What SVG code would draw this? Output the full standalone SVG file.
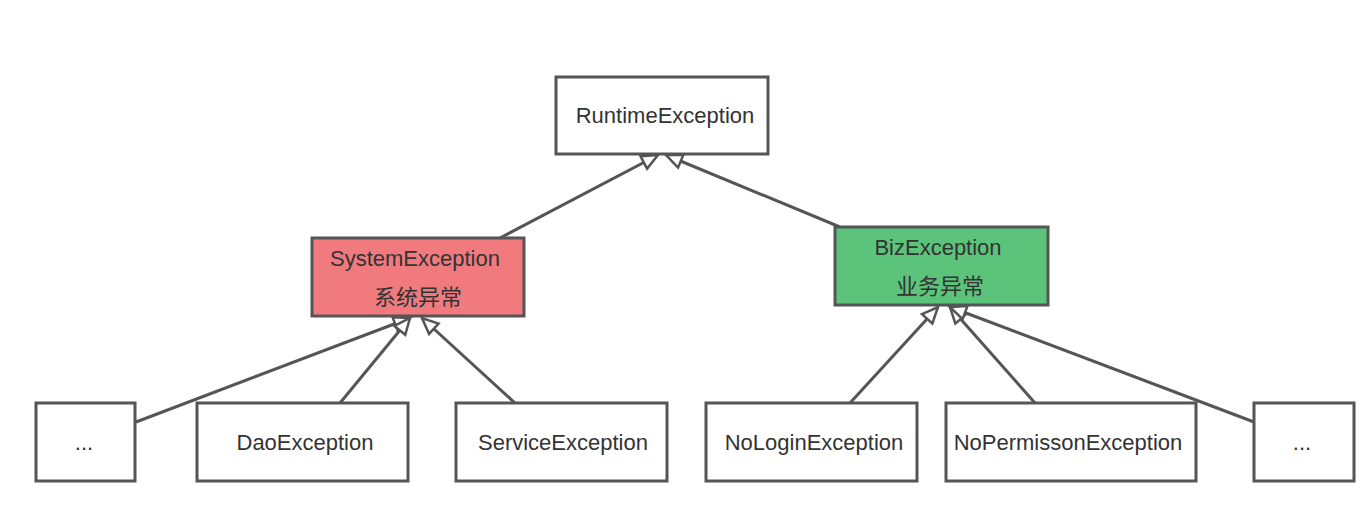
<svg xmlns="http://www.w3.org/2000/svg" width="1370" height="526" viewBox="0 0 1370 526">
<style>
.box{fill:#ffffff;stroke:#555555;stroke-width:3}
.sys{fill:#F17A7E}
.biz{fill:#5CC37A}
.t{font-family:"Liberation Sans","Noto Sans CJK SC",sans-serif;font-size:22px;fill:#333333;text-anchor:middle;dominant-baseline:central}
.c{stroke:#555555;stroke-width:3;fill:none;marker-end:url(#tri)}
</style>
<defs>
<marker id="tri" markerUnits="userSpaceOnUse" markerWidth="22" markerHeight="20" refX="18" refY="9" orient="auto">
<path d="M2,2 L18,9 L2,16 Z" fill="#ffffff" stroke="#555555" stroke-width="2.5"/>
</marker>
</defs>
<rect width="1370" height="526" fill="#ffffff"/>
<g id="connectors">
<line class="c" x1="500" y1="238" x2="658" y2="155"/>
<line class="c" x1="840" y1="227" x2="666" y2="155"/>
<line class="c" x1="136" y1="422" x2="410" y2="318"/>
<line class="c" x1="340" y1="403" x2="410" y2="318"/>
<line class="c" x1="515" y1="403" x2="422" y2="318"/>
<line class="c" x1="850" y1="403" x2="938" y2="307"/>
<line class="c" x1="1035" y1="403" x2="950" y2="307"/>
<line class="c" x1="1254" y1="422" x2="950" y2="307"/>
</g>
<g id="runtime">
<rect class="box" x="556" y="77" width="212" height="77"/>
<text class="t" x="665" y="115">RuntimeException</text>
</g>
<g id="system">
<rect class="box sys" x="312" y="238" width="212" height="78"/>
<text class="t" x="415" y="258">SystemException</text>
<text class="t" x="418" y="297">系统异常</text>
</g>
<g id="biz">
<rect class="box biz" x="835" y="227" width="213" height="78"/>
<text class="t" x="938" y="247">BizException</text>
<text class="t" x="940" y="286">业务异常</text>
</g>
<g id="dots-left">
<rect class="box" x="36" y="403" width="99" height="78"/>
<text class="t" x="84" y="442">...</text>
</g>
<g id="dao">
<rect class="box" x="197" y="403" width="211" height="78"/>
<text class="t" x="305" y="442">DaoException</text>
</g>
<g id="service">
<rect class="box" x="456" y="403" width="211" height="78"/>
<text class="t" x="563" y="442">ServiceException</text>
</g>
<g id="nologin">
<rect class="box" x="706" y="403" width="211" height="78"/>
<text class="t" x="814" y="442">NoLoginException</text>
</g>
<g id="nopermisson">
<rect class="box" x="946" y="403" width="250" height="78"/>
<text class="t" x="1068" y="442">NoPermissonException</text>
</g>
<g id="dots-right">
<rect class="box" x="1254" y="403" width="100" height="78"/>
<text class="t" x="1302" y="442">...</text>
</g>
</svg>
